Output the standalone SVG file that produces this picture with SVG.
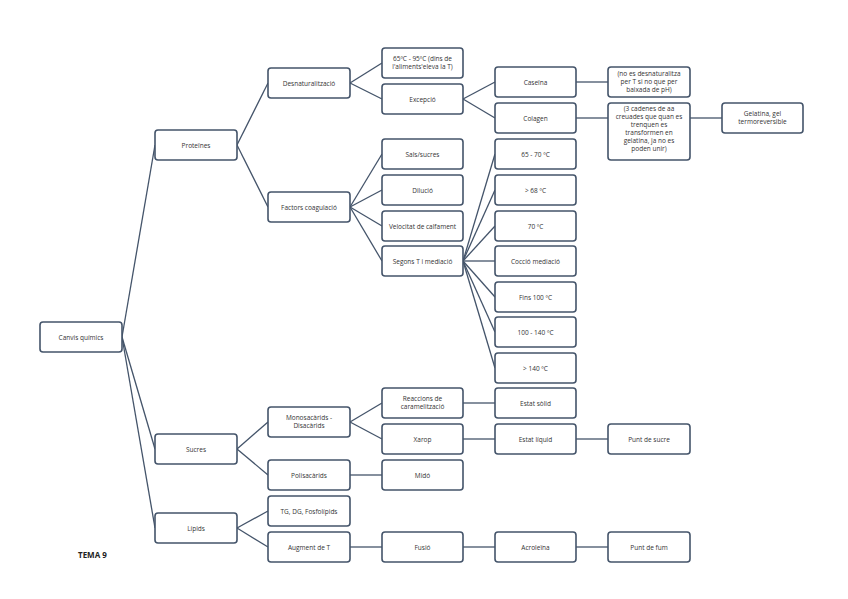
<svg xmlns="http://www.w3.org/2000/svg" width="848" height="599" viewBox="0 0 848 599">
<style>
.n rect{fill:#fff;stroke:#44546a;stroke-width:1.6}
.n text{font-family:"Open Sans",sans-serif;font-size:6.5px;fill:#333;text-anchor:middle}
#c line{stroke:#44546a;stroke-width:1.3}
</style>
<rect width="848" height="599" fill="#fff"/>
<g id="c">
<line x1="122" y1="337" x2="155" y2="145"/><line x1="122" y1="337" x2="155" y2="449"/><line x1="122" y1="337" x2="155" y2="528"/>
<line x1="237" y1="145" x2="268" y2="83"/><line x1="237" y1="145" x2="268" y2="207"/>
<line x1="350" y1="83" x2="382" y2="63"/><line x1="350" y1="83" x2="382" y2="99"/>
<line x1="463" y1="99" x2="495" y2="82"/><line x1="463" y1="99" x2="495" y2="118"/>
<line x1="576" y1="82" x2="608" y2="82"/><line x1="576" y1="118" x2="608" y2="118"/><line x1="690" y1="118" x2="722" y2="118"/>
<line x1="350" y1="207" x2="382" y2="154"/><line x1="350" y1="207" x2="382" y2="190"/><line x1="350" y1="207" x2="382" y2="226"/><line x1="350" y1="207" x2="382" y2="261"/>
<line x1="463" y1="261" x2="495" y2="154"/><line x1="463" y1="261" x2="495" y2="190"/><line x1="463" y1="261" x2="495" y2="226"/><line x1="463" y1="261" x2="495" y2="261"/><line x1="463" y1="261" x2="495" y2="297"/><line x1="463" y1="261" x2="495" y2="332"/><line x1="463" y1="261" x2="495" y2="368"/>
<line x1="237" y1="449" x2="268" y2="422"/><line x1="237" y1="449" x2="268" y2="475"/>
<line x1="350" y1="422" x2="382" y2="403"/><line x1="350" y1="422" x2="382" y2="439"/>
<line x1="463" y1="403" x2="495" y2="403"/><line x1="463" y1="439" x2="495" y2="439"/><line x1="576" y1="439" x2="608" y2="439"/>
<line x1="350" y1="475" x2="382" y2="475"/>
<line x1="237" y1="528" x2="268" y2="511"/><line x1="237" y1="528" x2="268" y2="547"/>
<line x1="350" y1="547" x2="382" y2="547"/><line x1="463" y1="547" x2="495" y2="547"/><line x1="576" y1="547" x2="608" y2="547"/>
</g>
<g id="n0" class="n"><rect x="40" y="322" width="82" height="30" rx="3"/><text x="81" y="339.5">Canvis químics</text></g>
<g id="n1" class="n"><rect x="155" y="130" width="82" height="30" rx="3"/><text x="196" y="147.5">Proteïnes</text></g>
<g id="n2" class="n"><rect x="155" y="434" width="82" height="30" rx="3"/><text x="196" y="451.5">Sucres</text></g>
<g id="n3" class="n"><rect x="155" y="513" width="82" height="30" rx="3"/><text x="196" y="530.5">Lípids</text></g>
<g id="n4" class="n"><rect x="268" y="68" width="82" height="30" rx="3"/><text x="309" y="85.5">Desnaturalització</text></g>
<g id="n5" class="n"><rect x="268" y="192" width="82" height="30" rx="3"/><text x="309" y="209.5">Factors coagulació</text></g>
<g id="n6" class="n"><rect x="268" y="407" width="82" height="30" rx="3"/><text x="309" y="420">Monosacàrids -</text><text x="309" y="428">Disacàrids</text></g>
<g id="n7" class="n"><rect x="268" y="460" width="82" height="30" rx="3"/><text x="309" y="477.5">Polisacàrids</text></g>
<g id="n8" class="n"><rect x="268" y="496" width="82" height="30" rx="3"/><text x="309" y="513.5">TG, DG, Fosfolípids</text></g>
<g id="n9" class="n"><rect x="268" y="532" width="82" height="30" rx="3"/><text x="309" y="549.5">Augment de T</text></g>
<g id="n10" class="n"><rect x="382" y="48" width="81" height="30" rx="3"/><text x="422.5" y="61">65ºC - 95ºC (dins de</text><text x="422.5" y="69">l'aliments'eleva la T)</text></g>
<g id="n11" class="n"><rect x="382" y="84" width="81" height="30" rx="3"/><text x="422.5" y="101.5">Excepció</text></g>
<g id="n12" class="n"><rect x="382" y="139" width="81" height="30" rx="3"/><text x="422.5" y="156.5">Sals/sucres</text></g>
<g id="n13" class="n"><rect x="382" y="175" width="81" height="30" rx="3"/><text x="422.5" y="192.5">Dilució</text></g>
<g id="n14" class="n"><rect x="382" y="211" width="81" height="30" rx="3"/><text x="422.5" y="228.5">Velocitat de calfament</text></g>
<g id="n15" class="n"><rect x="382" y="246" width="81" height="30" rx="3"/><text x="422.5" y="263.5">Segons T i mediació</text></g>
<g id="n16" class="n"><rect x="382" y="388" width="81" height="30" rx="3"/><text x="422.5" y="401">Reaccions de</text><text x="422.5" y="409">caramelització</text></g>
<g id="n17" class="n"><rect x="382" y="424" width="81" height="30" rx="3"/><text x="422.5" y="441.5">Xarop</text></g>
<g id="n18" class="n"><rect x="382" y="460" width="81" height="30" rx="3"/><text x="422.5" y="477.5">Midó</text></g>
<g id="n19" class="n"><rect x="382" y="532" width="81" height="30" rx="3"/><text x="422.5" y="549.5">Fusió</text></g>
<g id="n20" class="n"><rect x="495" y="67" width="81" height="30" rx="3"/><text x="535.5" y="84.5">Caseïna</text></g>
<g id="n21" class="n"><rect x="495" y="103" width="81" height="30" rx="3"/><text x="535.5" y="120.5">Colagen</text></g>
<g id="n22" class="n"><rect x="495" y="139" width="81" height="30" rx="3"/><text x="535.5" y="156.5">65 - 70 ºC</text></g>
<g id="n23" class="n"><rect x="495" y="175" width="81" height="30" rx="3"/><text x="535.5" y="192.5">&gt; 68 ºC</text></g>
<g id="n24" class="n"><rect x="495" y="211" width="81" height="30" rx="3"/><text x="535.5" y="228.5">70 ºC</text></g>
<g id="n25" class="n"><rect x="495" y="246" width="81" height="30" rx="3"/><text x="535.5" y="263.5">Cocció mediació</text></g>
<g id="n26" class="n"><rect x="495" y="282" width="81" height="30" rx="3"/><text x="535.5" y="299.5">Fins 100 ºC</text></g>
<g id="n27" class="n"><rect x="495" y="317" width="81" height="30" rx="3"/><text x="535.5" y="334.5">100 - 140 ºC</text></g>
<g id="n28" class="n"><rect x="495" y="353" width="81" height="30" rx="3"/><text x="535.5" y="370.5">&gt; 140 ºC</text></g>
<g id="n29" class="n"><rect x="495" y="388" width="81" height="30" rx="3"/><text x="535.5" y="405.5">Estat sòlid</text></g>
<g id="n30" class="n"><rect x="495" y="424" width="81" height="30" rx="3"/><text x="535.5" y="441.5">Estat líquid</text></g>
<g id="n31" class="n"><rect x="495" y="532" width="81" height="30" rx="3"/><text x="535.5" y="549.5">Acroleïna</text></g>
<g id="n32" class="n"><rect x="608" y="67" width="82" height="30" rx="3"/><text x="649" y="76">(no es desnaturalitza</text><text x="649" y="84">per T si no que per</text><text x="649" y="92">baixada de pH)</text></g>
<g id="n33" class="n"><rect x="608" y="103" width="82" height="57" rx="3"/><text x="649" y="111">(3 cadenes de aa</text><text x="649" y="119">creuades que quan es</text><text x="649" y="127">trenquen es</text><text x="649" y="135">transformen en</text><text x="649" y="143">gelatina, ja no es</text><text x="649" y="151">poden unir)</text></g>
<g id="n34" class="n"><rect x="722" y="103" width="81" height="30" rx="3"/><text x="762.5" y="116">Gelatina, gel</text><text x="762.5" y="124">termoreversible</text></g>
<g id="n35" class="n"><rect x="608" y="424" width="82" height="30" rx="3"/><text x="649" y="441.5">Punt de sucre</text></g>
<g id="n36" class="n"><rect x="608" y="532" width="82" height="30" rx="3"/><text x="649" y="549.5">Punt de fum</text></g>
<text x="78" y="558" font-family="'Open Sans',sans-serif" font-size="8" font-weight="bold" fill="#222">TEMA 9</text>
</svg>
